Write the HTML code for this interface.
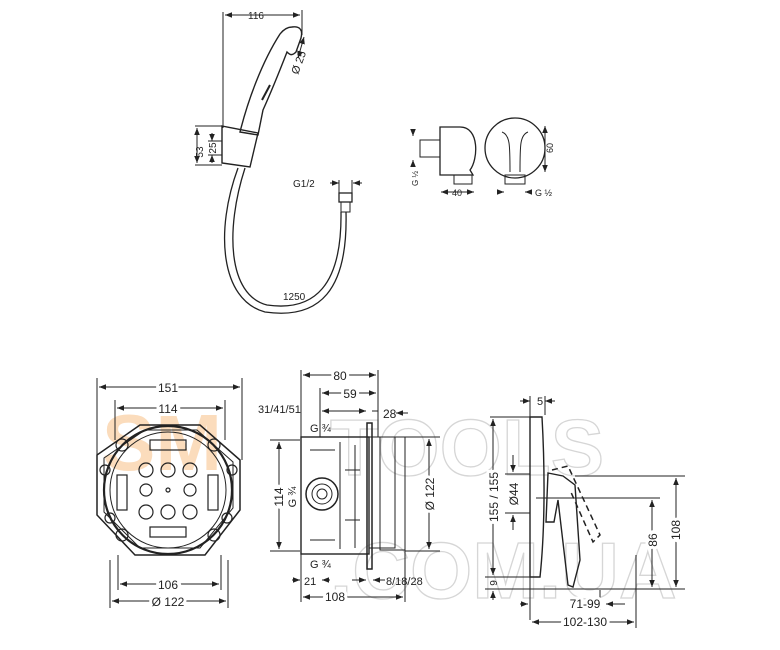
<!DOCTYPE html>
<html><head><meta charset="utf-8"><style>
html,body{margin:0;padding:0;background:#fff}
svg{display:block}
text{font-family:"Liberation Sans",sans-serif;fill:#222}
</style></head><body>
<svg width="780" height="650" viewBox="0 0 780 650" xmlns="http://www.w3.org/2000/svg">
<defs>
<marker id="a" viewBox="0 0 10 10" refX="10" refY="5" markerWidth="7" markerHeight="7" orient="auto-start-reverse"><path d="M0,1 L10,5 L0,9z" fill="#222"/></marker>
</defs>
<!-- watermark -->
<g font-family="Liberation Sans" font-weight="bold">
<text x="102" y="470" font-size="80" style="fill:#fbdcbc">SM</text>
<text x="330" y="475" font-size="80" stroke="#d6d6d6" stroke-width="1.3" style="fill:none">TOOLS</text>
<text x="330" y="598" font-size="80" stroke="#d6d6d6" stroke-width="1.3" style="fill:none">.COM.UA</text>
</g>
<g stroke="#222" fill="none" stroke-width="1">
<!-- hand shower -->
<line x1="223" y1="12" x2="223" y2="128"/><line x1="302" y1="10" x2="302" y2="35"/>
<line x1="225" y1="15" x2="300" y2="15" marker-start="url(#a)" marker-end="url(#a)"/>
<path d="M292,27 C300,26 303,30 301,38 L296,52 C292,56 290,55 287,52 C280,70 272,90 263,110 L258,135 L240,132 C248,100 262,62 280,34 C284,29 288,27 292,27z" stroke-width="1.4"/>
<path d="M270,85 L262,100" stroke-width="2"/>
<path d="M222,126 L258,133 L250,167 L222,163z" stroke-width="1.4"/>
<line x1="304" y1="37" x2="298" y2="58" marker-start="url(#a)" marker-end="url(#a)"/>
<line x1="195" y1="126" x2="222" y2="126"/><line x1="195" y1="165" x2="222" y2="165"/><line x1="208" y1="141" x2="222" y2="141"/><line x1="208" y1="155" x2="222" y2="155"/>
<line x1="197" y1="128" x2="197" y2="163" marker-start="url(#a)" marker-end="url(#a)"/>
<line x1="212" y1="133" x2="212" y2="141" marker-end="url(#a)"/><line x1="212" y1="163" x2="212" y2="155" marker-end="url(#a)"/>
<path d="M238,168 C215,230 220,300 265,312 C320,320 348,290 346,212" stroke-width="1.3"/>
<path d="M245,168 C225,230 228,295 267,305 C315,312 342,285 341,212" stroke-width="1.3"/>
<rect x="339" y="193" width="13" height="9" stroke-width="1.3"/><rect x="341" y="202" width="9" height="10"/>
<line x1="330" y1="183" x2="339" y2="183" marker-end="url(#a)"/><line x1="362" y1="183" x2="353" y2="183" marker-end="url(#a)"/>
<line x1="339" y1="180" x2="339" y2="193"/><line x1="352" y1="180" x2="352" y2="193"/>
<!-- wall outlet -->
<path d="M440,127 L460,127 C480,127 478,160 470,170 L473,175 L440,175z" stroke-width="1.3"/>
<rect x="420" y="140" width="20" height="17"/><rect x="454" y="175" width="18" height="9"/>
<circle cx="515" cy="148" r="30" stroke-width="1.3"/>
<path d="M502,132 C510,135 510,145 510,172 M528,132 C520,135 520,145 520,172" />
<rect x="505" y="175" width="20" height="9"/>
<line x1="413" y1="131" x2="413" y2="136" marker-end="url(#a)"/><line x1="413" y1="165" x2="413" y2="160" marker-end="url(#a)"/>
<line x1="441" y1="192" x2="474" y2="192" marker-start="url(#a)" marker-end="url(#a)"/>
<line x1="497" y1="192" x2="504" y2="192" marker-end="url(#a)"/><line x1="532" y1="192" x2="525" y2="192" marker-end="url(#a)"/>
<line x1="545" y1="126" x2="545" y2="172" marker-start="url(#a)" marker-end="url(#a)"/>
<!-- mounting box front -->
<path d="M140,425 L200,425 L240,460 L240,510 L205,555 L135,555 L97,515 L97,455z" stroke-width="1.5"/>
<path d="M145,430 L197,430 L233,462 L233,508 L200,548 L140,548 L104,512 L104,458z"/>
<circle cx="168" cy="490" r="64" stroke-width="2.2"/>
<circle cx="168" cy="490" r="58"/>
<g stroke-width="1.2">
<circle cx="146" cy="470" r="7"/><circle cx="168" cy="470" r="7"/><circle cx="190" cy="470" r="7"/>
<circle cx="146" cy="490" r="6"/><circle cx="190" cy="490" r="6"/><circle cx="168" cy="490" r="2"/>
<circle cx="146" cy="512" r="7"/><circle cx="168" cy="512" r="7"/><circle cx="190" cy="512" r="7"/>
<circle cx="122" cy="445" r="6"/><circle cx="214" cy="445" r="6"/><circle cx="122" cy="535" r="6"/><circle cx="214" cy="535" r="6"/>
<circle cx="105" cy="470" r="5"/><circle cx="232" cy="470" r="5"/><circle cx="110" cy="518" r="5"/><circle cx="227" cy="518" r="5"/>
<rect x="150" y="440" width="36" height="10"/><rect x="150" y="527" width="36" height="10"/>
<rect x="117" y="475" width="10" height="35"/><rect x="208" y="475" width="10" height="35"/>
</g>
<line x1="97" y1="378" x2="97" y2="455"/><line x1="242" y1="378" x2="242" y2="460"/>
<line x1="99" y1="387" x2="240" y2="387" marker-start="url(#a)" marker-end="url(#a)"/>
<line x1="115" y1="400" x2="115" y2="440"/><line x1="225" y1="400" x2="225" y2="440"/>
<line x1="117" y1="408" x2="223" y2="408" marker-start="url(#a)" marker-end="url(#a)"/>
<line x1="118" y1="555" x2="118" y2="590"/><line x1="221" y1="555" x2="221" y2="590"/>
<line x1="120" y1="584" x2="219" y2="584" marker-start="url(#a)" marker-end="url(#a)"/>
<line x1="110" y1="560" x2="110" y2="608"/><line x1="228" y1="560" x2="228" y2="608"/>
<line x1="112" y1="601" x2="226" y2="601" marker-start="url(#a)" marker-end="url(#a)"/>
<!-- box side -->
<rect x="301" y="437" width="68" height="117" stroke-width="1.4"/>
<path d="M369,437 L395,437 L395,548 L369,548" />
<rect x="367" y="423" width="5" height="146" stroke-width="1.5"/>
<rect x="380" y="437" width="25" height="113"/>
<circle cx="322" cy="494" r="16" stroke-width="1.5"/><circle cx="322" cy="494" r="10"/><circle cx="322" cy="494" r="5"/>
<path d="M340,442 L340,549 M355,445 L355,548 M310,450 L335,450 M310,540 L335,540 M345,470 L360,470 M345,520 L360,520"/>
<line x1="301" y1="370" x2="301" y2="437"/><line x1="378" y1="370" x2="378" y2="437"/><line x1="320" y1="388" x2="320" y2="437"/>
<line x1="303" y1="375" x2="376" y2="375" marker-start="url(#a)" marker-end="url(#a)"/>
<line x1="322" y1="393" x2="376" y2="393" marker-start="url(#a)" marker-end="url(#a)"/>
<line x1="322" y1="411" x2="366" y2="411" marker-start="url(#a)" marker-end="url(#a)"/>
<line x1="372" y1="411" x2="378" y2="411"/><line x1="408" y1="413" x2="396" y2="413" marker-end="url(#a)"/>
<line x1="270" y1="440" x2="300" y2="440"/><line x1="270" y1="551" x2="300" y2="551"/>
<line x1="279" y1="442" x2="279" y2="549" marker-start="url(#a)" marker-end="url(#a)"/>
<line x1="405" y1="437" x2="440" y2="437"/><line x1="405" y1="551" x2="440" y2="551"/>
<line x1="429" y1="439" x2="429" y2="549" marker-start="url(#a)" marker-end="url(#a)"/>
<line x1="301" y1="554" x2="301" y2="602"/><line x1="405" y1="550" x2="405" y2="602"/>
<line x1="303" y1="597" x2="403" y2="597" marker-start="url(#a)" marker-end="url(#a)"/>
<line x1="292" y1="580" x2="300" y2="580" marker-end="url(#a)"/><line x1="330" y1="580" x2="322" y2="580" marker-end="url(#a)"/>
<line x1="352" y1="580" x2="366" y2="580" marker-end="url(#a)"/><line x1="385" y1="580" x2="373" y2="580" marker-end="url(#a)"/>
<!-- mixer side -->
<path d="M530,417 L542,417 C545,470 545,530 540,577 L530,577z" stroke-width="1.4"/>
<path d="M548,473 L563,476 L575,485 L580,560 L573,587 L568,585 L558,500 L554,522 L546,522z" stroke-width="1.4"/>
<path d="M552,470 L568,466 L600,535 L593,542 L570,490" stroke-dasharray="6,4" stroke-width="1.5"/>
<line x1="530" y1="396" x2="530" y2="620"/><line x1="545" y1="396" x2="545" y2="415"/>
<line x1="520" y1="401" x2="530" y2="401" marker-end="url(#a)"/><line x1="555" y1="401" x2="545" y2="401" marker-end="url(#a)"/>
<line x1="490" y1="417" x2="530" y2="417"/><line x1="485" y1="577" x2="530" y2="577"/><line x1="485" y1="589" x2="685" y2="589"/>
<line x1="493" y1="419" x2="493" y2="575" marker-start="url(#a)" marker-end="url(#a)"/>
<line x1="493" y1="600" x2="493" y2="591" marker-end="url(#a)"/>
<line x1="513" y1="455" x2="513" y2="472" marker-end="url(#a)"/><line x1="513" y1="530" x2="513" y2="515" marker-end="url(#a)"/>
<line x1="505" y1="474" x2="530" y2="474"/><line x1="505" y1="513" x2="530" y2="513"/>
<line x1="575" y1="476" x2="685" y2="476"/><line x1="536" y1="498" x2="660" y2="498"/>
<line x1="676" y1="478" x2="676" y2="587" marker-start="url(#a)" marker-end="url(#a)"/>
<line x1="652" y1="500" x2="652" y2="587" marker-start="url(#a)" marker-end="url(#a)"/>
<line x1="520" y1="604" x2="528" y2="604" marker-end="url(#a)"/><line x1="625" y1="604" x2="606" y2="604" marker-end="url(#a)"/>
<line x1="600" y1="590" x2="600" y2="610"/><line x1="636" y1="555" x2="636" y2="628"/>
<line x1="532" y1="622" x2="634" y2="622" marker-start="url(#a)" marker-end="url(#a)"/>
</g>
<g font-size="12">
<text x="256" y="19" text-anchor="middle" font-size="10">116</text>
<text x="298" y="75" font-size="11" transform="rotate(-70 298 75)">Ø 25</text>
<text x="203" y="152" font-size="10" transform="rotate(-90 203 152)" text-anchor="middle">53</text>
<text x="216" y="148" font-size="10" transform="rotate(-90 216 148)" text-anchor="middle">25</text>
<text x="293" y="187" font-size="10">G1/2</text>
<text x="283" y="300" font-size="10">1250</text>
<text x="418" y="186" font-size="8" transform="rotate(-90 418 186)">G ½</text>
<text x="457" y="196" font-size="9" text-anchor="middle">40</text>
<text x="535" y="196" font-size="9">G ½</text>
<text x="553" y="148" font-size="9" transform="rotate(-90 553 148)" text-anchor="middle">60</text>
<text x="168" y="392" text-anchor="middle" stroke="#fff" stroke-width="6" style="paint-order:stroke">151</text>
<text x="168" y="413" text-anchor="middle" stroke="#fff" stroke-width="6" style="paint-order:stroke">114</text>
<text x="168" y="589" text-anchor="middle" stroke="#fff" stroke-width="6" style="paint-order:stroke">106</text>
<text x="168" y="606" text-anchor="middle" stroke="#fff" stroke-width="6" style="paint-order:stroke">Ø 122</text>
<text x="340" y="380" text-anchor="middle" stroke="#fff" stroke-width="6" style="paint-order:stroke">80</text>
<text x="350" y="398" text-anchor="middle" stroke="#fff" stroke-width="6" style="paint-order:stroke">59</text>
<text x="258" y="413" font-size="11">31/41/51</text>
<text x="383" y="418">28</text>
<text x="310" y="432" font-size="11">G ¾</text>
<text x="310" y="568" font-size="11">G ¾</text>
<text x="283" y="497" transform="rotate(-90 283 497)" text-anchor="middle" stroke="#fff" stroke-width="6" style="paint-order:stroke">114</text>
<text x="296" y="497" transform="rotate(-90 296 497)" text-anchor="middle" font-size="11">G ¾</text>
<text x="434" y="494" transform="rotate(-90 434 494)" text-anchor="middle" stroke="#fff" stroke-width="6" style="paint-order:stroke">Ø 122</text>
<text x="304" y="585" font-size="11">21</text>
<text x="386" y="585" font-size="11">8/18/28</text>
<text x="335" y="601" text-anchor="middle" stroke="#fff" stroke-width="6" style="paint-order:stroke">108</text>
<text x="537" y="405" font-size="11">5</text>
<text x="498" y="497" transform="rotate(-90 498 497)" text-anchor="middle" stroke="#fff" stroke-width="6" style="paint-order:stroke">155 / 155</text>
<text x="518" y="494" transform="rotate(-90 518 494)" text-anchor="middle">Ø44</text>
<text x="497" y="583" font-size="10" transform="rotate(-90 497 583)" text-anchor="middle">9</text>
<text x="585" y="608" text-anchor="middle" stroke="#fff" stroke-width="6" style="paint-order:stroke">71-99</text>
<text x="585" y="626" text-anchor="middle" stroke="#fff" stroke-width="6" style="paint-order:stroke">102-130</text>
<text x="657" y="540" transform="rotate(-90 657 540)" text-anchor="middle" stroke="#fff" stroke-width="6" style="paint-order:stroke">86</text>
<text x="680" y="530" transform="rotate(-90 680 530)" text-anchor="middle" stroke="#fff" stroke-width="6" style="paint-order:stroke">108</text>
</g>
</svg>
</body></html>
